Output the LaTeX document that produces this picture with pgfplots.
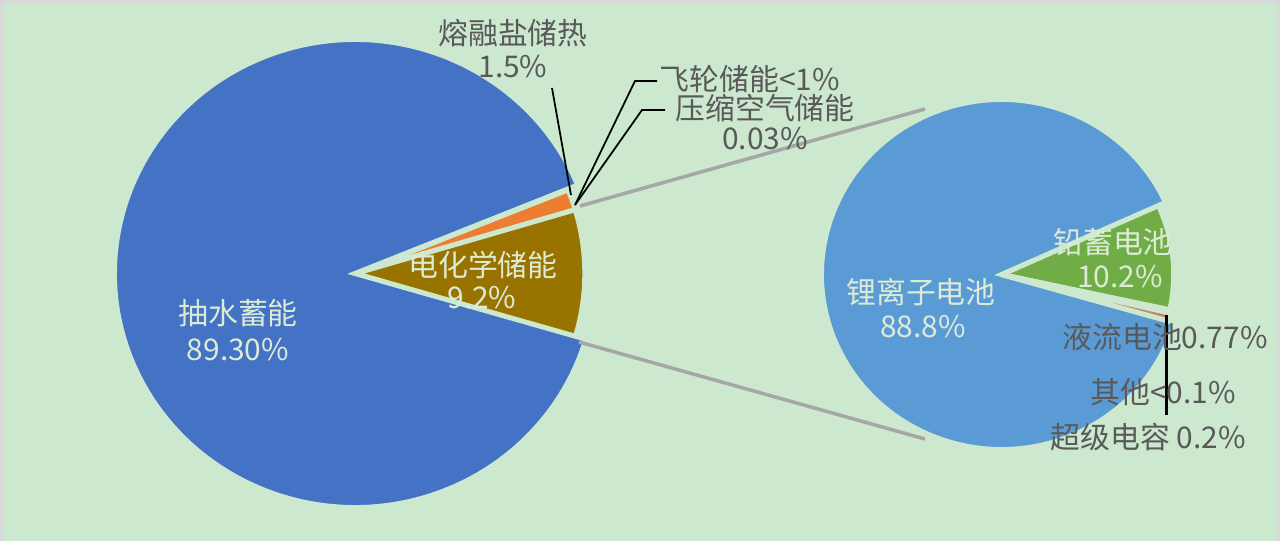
\documentclass[border=0pt]{standalone}
\usepackage{pgfplots}
\pgfplotsset{compat=1.18}
\usepackage{fontspec}
\setmainfont{Noto Sans CJK SC}

\definecolor{framegray}{HTML}{D9D9D9}
\definecolor{bgc}{HTML}{CCE8CF}
\definecolor{pumped}{HTML}{4472C4}
\definecolor{salt}{HTML}{ED7D31}
\definecolor{electro}{HTML}{997300}
\definecolor{lithium}{HTML}{5B9BD5}
\definecolor{leadacid}{HTML}{70AD47}
\definecolor{flow}{HTML}{C9826B}
\definecolor{other}{HTML}{A5A5A5}
\definecolor{supercap}{HTML}{FFC000}
\definecolor{conn}{HTML}{A6A6A6}
\definecolor{labgray}{HTML}{595959}
\definecolor{labin}{HTML}{DCEBD6}

\newcommand\lbl{\fontsize{17}{21}\selectfont}

% one pie slice: centre x, centre y, x radius, y radius (pixels), start angle, percent, colour
\newcommand{\slice}[7]{%
  \pgfmathsetmacro\xr{#3*0.02}%
  \pgfmathsetmacro\yr{#4*0.02}%
  \pgfmathsetmacro\sa{#5}%
  \pgfmathsetmacro\da{3.6*#6}%
  \filldraw[fill=#7, draw=bgc, line width=0.1cm]
    (axis cs:#1,#2) -- ++(\sa:\xr cm and \yr cm)
    arc[start angle=\sa, delta angle=\da, x radius=\xr cm, y radius=\yr cm] -- cycle;
}

\begin{document}
\begin{tikzpicture}
\begin{axis}[x=0.02cm, y=0.02cm, xmin=0, xmax=1280, ymin=0, ymax=541,
  hide axis, clip=false]

\addplot[fill=framegray, draw=none] coordinates {(0,0) (1280,0) (1280,541) (0,541)} -- cycle;
\addplot[fill=bgc, draw=none] coordinates {(3,0) (1277,0) (1277,537) (3,537)} -- cycle;

% main pie
\pgfplotsextra{
  \slice{355}{267.5}{229.8}{223.5}{-16.5}{9.2}{electro}
  \slice{355}{267.5}{229.8}{223.5}{-16.5+3.6*9.2}{1.5}{salt}
  \slice{355}{267.5}{229.8}{223.5}{-16.5+3.6*10.7}{0.02}{other}
  \slice{355}{267.5}{229.8}{223.5}{-16.5+3.6*10.72}{0.03}{supercap}
  \slice{355}{267.5}{240.5}{234}{-16.5+3.6*10.75}{89.3}{pumped}
}

% second pie (electrochemical split)
\pgfplotsextra{
  \slice{1001.5}{266.5}{172.2}{167.5}{-12.4}{10.2}{leadacid}
  \slice{1001.5}{266.5}{180}{175}{-12.4+3.6*10.2}{88.8}{lithium}
  \slice{1001.5}{266.5}{172.2}{167.5}{-12.4+3.6*99}{0.77}{flow}
  \slice{1001.5}{266.5}{172.2}{167.5}{-12.4+3.6*99.77}{0.1}{other}
  \slice{1001.5}{266.5}{172.2}{167.5}{-12.4+3.6*99.87}{0.2}{supercap}
}

% connectors between the pies
\addplot[conn, line width=0.07cm] coordinates {(580,335) (925,432)};
\addplot[conn, line width=0.07cm] coordinates {(579,199) (925,102)};

% leader lines
\addplot[black, line width=0.035cm] coordinates {(552,453) (571,346)};
\addplot[black, line width=0.035cm] coordinates {(657,460) (635,460) (575,336)};
\addplot[black, line width=0.035cm] coordinates {(665,431) (642,431) (575,336)};
\addplot[black, line width=0.06cm] coordinates {(1166,226) (1166,126)};

% labels
\node[font=\lbl, text=labgray] at (axis cs:513,508) {熔融盐储热};
\node[font=\lbl, text=labgray] at (axis cs:513,474) {1.5\%};
\node[font=\lbl, text=labgray] at (axis cs:750,462) {飞轮储能<1\%};
\node[font=\lbl, text=labgray] at (axis cs:765,433) {压缩空气储能};
\node[font=\lbl, text=labgray] at (axis cs:765,402) {0.03\%};
\node[font=\lbl, text=labin] at (axis cs:483,276) {电化学储能};
\node[font=\lbl, text=labin] at (axis cs:482,243) {9.2\%};
\node[font=\lbl, text=labin] at (axis cs:238,228) {抽水蓄能};
\node[font=\lbl, text=labin] at (axis cs:238,191) {89.30\%};
\node[font=\lbl, text=labin] at (axis cs:921,249) {锂离子电池};
\node[font=\lbl, text=labin] at (axis cs:923,214) {88.8\%};
\node[font=\lbl, text=labin] at (axis cs:1113,299) {铅蓄电池};
\node[font=\lbl, text=labin] at (axis cs:1120,264) {10.2\%};
\node[font=\lbl, text=labgray] at (axis cs:1165,204) {液流电池0.77\%};
\node[font=\lbl, text=labgray] at (axis cs:1163,149) {其他<0.1\%};
\node[font=\lbl, text=labgray] at (axis cs:1148,104) {超级电容 0.2\%};

\end{axis}
\end{tikzpicture}
\end{document}
